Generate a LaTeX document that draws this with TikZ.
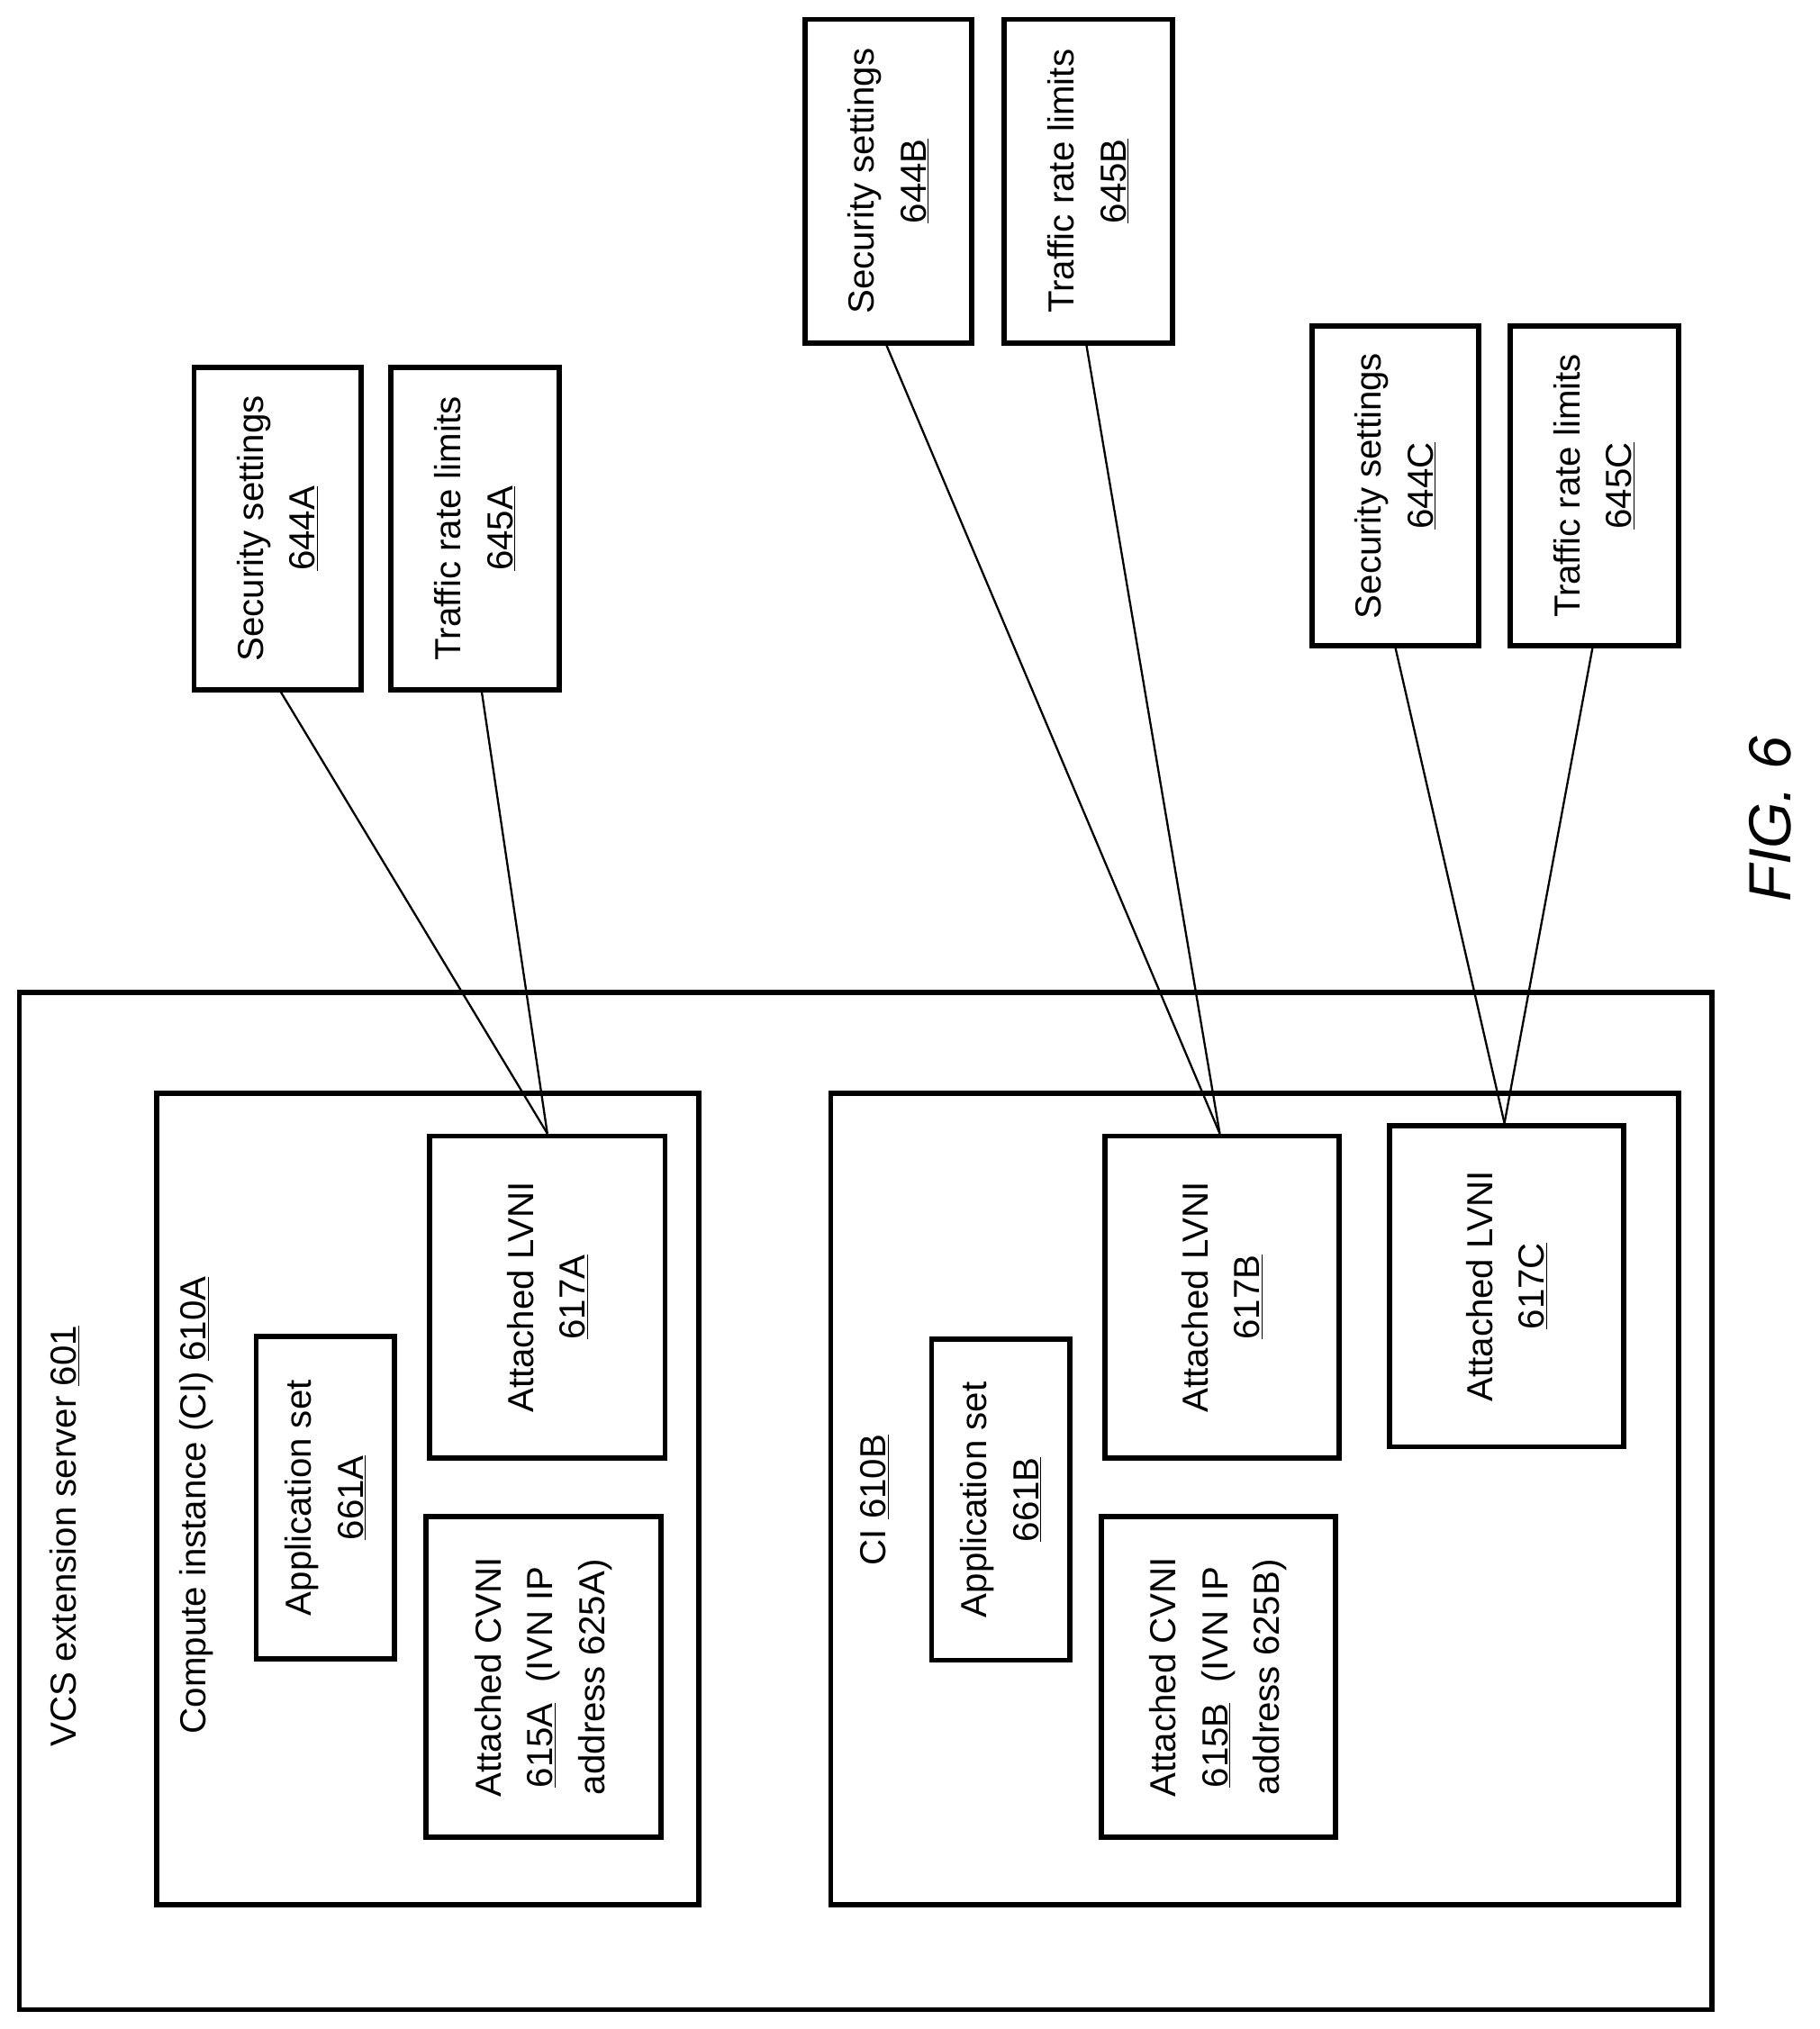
\documentclass[tikz,border=0pt]{standalone}
\usepackage{fontspec}
\setmainfont{Liberation Sans}
\usetikzlibrary{calc}
\begin{document}
\begin{tikzpicture}[x=1pt,y=-1pt,
 box/.style={draw,line width=4pt,rectangle,inner sep=0pt},
 lbl/.style={rotate=90,align=center,font=\fontsize{28}{40}\selectfont,inner sep=0pt},
 conn/.style={line width=1.6pt}]
\useasboundingbox (0,0) rectangle (1406,1568);
\newcommand{\bx}[5]{\node[box,minimum width={#4-#2},minimum height={#5-#3}] (#1) at ({(#2+#4)/2},{(#3+#5)/2}) {};}
% server
\bx{srv}{15}{767}{1323}{1553}
\node[lbl,anchor=west] (srvl) at (50,1350) {VCS extension server \underline{601}};
\bx{ciA}{121}{845}{540}{1472}
\node[lbl,anchor=west] (ciAl) at (152,1340) {Compute instance (CI) \underline{610A}};
\bx{apA}{198}{1033}{305}{1282}
\node[lbl] at (apA) {Application set\\\underline{661A}};
\bx{lvA}{332}{878}{514}{1127}
\node[lbl] at (lvA) {Attached LVNI\\\underline{617A}};
\bx{cvA}{329}{1172}{511}{1420}
\node[lbl] at (cvA) {Attached CVNI\\\underline{615A}\ \ (IVN IP\\address 625A)};
\bx{ciB}{642}{845}{1297}{1472}
\node[lbl,anchor=west] (ciBl) at (676,1210) {CI \underline{610B}};
\bx{apB}{720}{1035}{827}{1283}
\node[lbl] at (apB) {Application set\\\underline{661B}};
\bx{lvB}{854}{878}{1035}{1127}
\node[lbl] at (lvB) {Attached LVNI\\\underline{617B}};
\bx{cvB}{851}{1172}{1032}{1420}
\node[lbl] at (cvB) {Attached CVNI\\\underline{615B}\ \ (IVN IP\\address 625B)};
\bx{lvC}{1074}{870}{1255}{1118}
\node[lbl] at (lvC) {Attached LVNI\\\underline{617C}};
% settings
\bx{sA}{150}{284}{279}{533}
\node[lbl] at (sA) {Security settings\\\underline{644A}};
\bx{tA}{302}{284}{432}{533}
\node[lbl] at (tA) {Traffic rate limits\\\underline{645A}};
\bx{sB}{622}{15}{751}{265}
\node[lbl] at (sB) {Security settings\\\underline{644B}};
\bx{tB}{776}{15}{906}{265}
\node[lbl] at (tB) {Traffic rate limits\\\underline{645B}};
\bx{sC}{1014}{252}{1143}{499}
\node[lbl] at (sC) {Security settings\\\underline{644C}};
\bx{tC}{1167}{252}{1297}{499}
\node[lbl] at (tC) {Traffic rate limits\\\underline{645C}};
% connectors
\coordinate (pA) at ($(lvA.north west)!0.5!(lvA.north east)$);
\coordinate (pB) at ($(lvB.north west)!0.49!(lvB.north east)$);
\coordinate (pC) at ($(lvC.north west)!0.49!(lvC.north east)$);
\draw[conn] ($(sA.south west)!0.52!(sA.south east)$) -- (pA);
\draw[conn] ($(tA.south west)!0.54!(tA.south east)$) -- (pA);
\draw[conn] ($(sB.south west)!0.49!(sB.south east)$) -- (pB);
\draw[conn] ($(tB.south west)!0.49!(tB.south east)$) -- (pB);
\draw[conn] ($(sC.south west)!0.5!(sC.south east)$) -- (pC);
\draw[conn] ($(tC.south west)!0.49!(tC.south east)$) -- (pC);
\node[rotate=90,font=\fontsize{46}{50}\selectfont\itshape,inner sep=0pt] (fig) at (1368,633) {FIG. 6};
\end{tikzpicture}
\end{document}
